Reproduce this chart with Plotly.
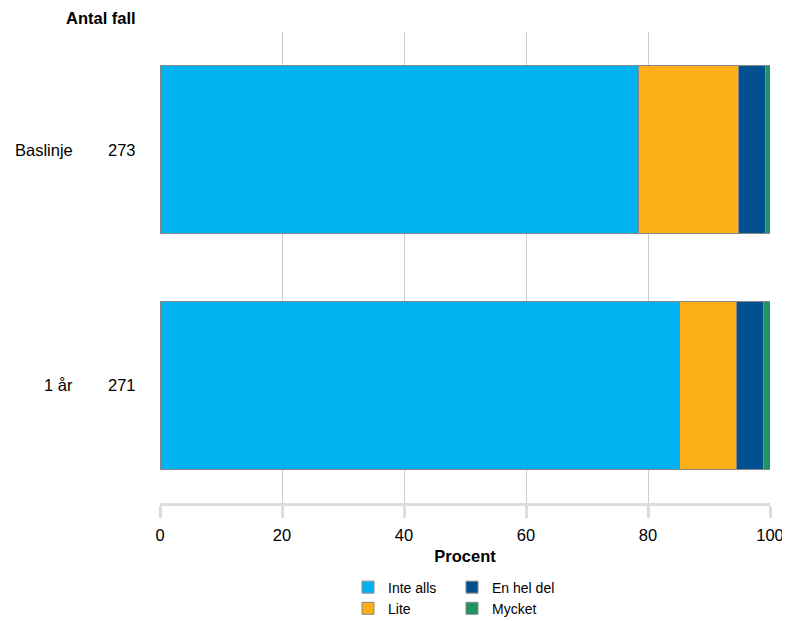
import plotly.graph_objects as go

categories = ["Baslinje", "1 år"]
antal_fall = ["273", "271"]
series_names = ["Inte alls", "Lite", "En hel del", "Mycket"]
inte_alls = [78.4, 85.1]
lite = [16.5, 9.4]
en_hel_del = [4.4, 4.5]
mycket = [0.7, 1.0]
colors = ["#00B2F0", "#FCAF17", "#02508F", "#1F9560"]
x_ticks = [0, 20, 40, 60, 80, 100]

FONT = "Liberation Sans, Arial, sans-serif"
FS = 16.5

fig = go.Figure()
values = [inte_alls, lite, en_hel_del, mycket]
legends = ["legend", "legend", "legend2", "legend2"]
for name, vals, col, lg in zip(series_names, values, colors, legends):
    fig.add_trace(go.Bar(
        y=[0, 1], x=vals, name=name, orientation="h",
        marker=dict(color=col, line=dict(color="#888888", width=1)),
        width=0.715, legend=lg,
        hovertemplate="%{x}<extra>" + name + "</extra>",
    ))

annotations = []
for i, (c, n) in enumerate(zip(categories, antal_fall)):
    annotations.append(dict(x=0, xref="paper", xanchor="right", xshift=-85, y=i, yref="y",
                            text=c, showarrow=False, font=dict(size=FS, color="#000")))
    annotations.append(dict(x=0, xref="paper", xanchor="right", xshift=-22, y=i, yref="y",
                            text=n, showarrow=False, font=dict(size=FS, color="#000")))
annotations.append(dict(x=0, xref="paper", xanchor="right", xshift=-22,
                        y=1.0, yref="paper", yanchor="middle", yshift=14.5,
                        text="<b>Antal fall</b>", showarrow=False,
                        font=dict(size=FS, color="#000")))

legend_common = dict(orientation="v", font=dict(size=14, color="#000"),
                     bgcolor="rgba(0,0,0,0)", tracegroupgap=0, traceorder="normal",
                     itemclick=False, itemdoubleclick=False,
                     yanchor="top", y=-0.1455)

# page body has an 8px margin, so the figure is sized/offset to compensate
fig.update_layout(
    width=782, height=613,
    margin=dict(l=152, r=20, t=24, b=118, autoexpand=False),
    paper_bgcolor="white", plot_bgcolor="white",
    barmode="stack",
    font=dict(family=FONT, size=FS, color="#000"),
    showlegend=True,
    xaxis=dict(range=[0, 100], tickvals=x_ticks, showgrid=True, gridcolor="#cccccc",
               gridwidth=1, zeroline=False, showline=True, linecolor="#dddddd",
               linewidth=3, ticks="outside", ticklen=12, tickwidth=3, tickcolor="#dddddd",
               ticklabelstandoff=3, automargin=False,
               tickfont=dict(size=FS), fixedrange=True,
               title=dict(text="<b>Procent</b>", font=dict(size=FS), standoff=8)),
    yaxis=dict(range=[1.5, -0.5], showticklabels=False, showgrid=False, zeroline=False,
               showline=False, fixedrange=True, automargin=False),
    legend=dict(x=0.3082, xanchor="left", **legend_common),
    legend2=dict(x=0.4787, xanchor="left", **legend_common),
    annotations=annotations,
)

fig.write_html("out.html")
